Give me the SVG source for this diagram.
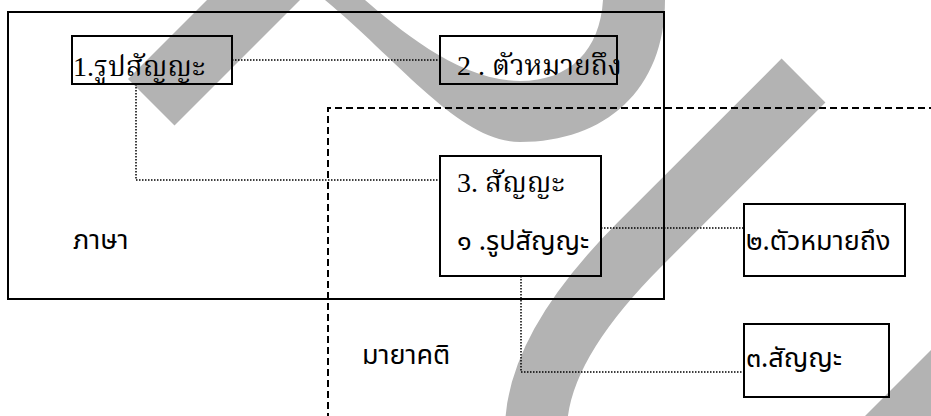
<svg xmlns="http://www.w3.org/2000/svg" width="931" height="416" viewBox="0 0 931 416">
<style>
.wm{fill:none;stroke:#b3b3b3;stroke-width:62;stroke-linecap:butt}
.wmf{fill:#b3b3b3;stroke:none}
.box{fill:none;stroke:#000;stroke-width:2}
.dot{fill:none;stroke:#000;stroke-width:1.5;stroke-dasharray:1.5 1.5}
.dash{fill:none;stroke:#000;stroke-width:2;stroke-dasharray:7 4}
.ser{font-family:"Liberation Serif","Noto Serif Thai","Noto Sans Thai",serif;font-size:28px;fill:#000}
.san{font-family:"Noto Sans","DejaVu Sans","Noto Sans Thai",sans-serif;font-size:27px;fill:#000}
</style>
<rect width="931" height="416" fill="#fff"/>
<g id="watermark">
<polygon class="wmf" points="207,0 300,0 174.5,125.5 128,79"/>
<path class="wmf" d="M 325 0 C 400 62 460 142 520 142 C 605 142 665 90 665 0 L 603 0 C 600 50 570 81 520 81 C 460 81 400 30 365 0 Z"/>
<path class="wm" d="M 803.5 80.5 L 640 244 Q 536 348 536 430"/>
<polygon class="wmf" points="931,350 931,416 865,416"/>
</g>
<g id="language">
<rect class="box" x="8" y="12" width="656" height="287"/>
<text class="san" x="73" y="249">ภาษา</text>
</g>
<g id="myth">
<path class="dash" d="M 328 420 L 328 108 L 935 108"/>
<text class="san" x="362" y="364">มายาคติ</text>
</g>
<g id="connectors">
<path class="dot" d="M 232 60 L 440 60"/>
<path class="dot" d="M 136 84 L 136 180 L 440 180"/>
<path class="dot" d="M 601 228 L 744 228"/>
<path class="dot" d="M 521 276 L 521 372 L 744 372"/>
</g>
<g id="signifier1">
<rect class="box" x="72" y="36" width="160" height="48"/>
<text class="ser" x="73" y="76">1.รูปสัญญะ</text>
</g>
<g id="signified2">
<rect class="box" x="440" y="36" width="177" height="48"/>
<text class="ser" x="457" y="75">2 . ตัวหมายถึง</text>
</g>
<g id="sign3">
<rect class="box" x="440" y="156" width="161" height="120"/>
<text class="ser" x="457" y="192">3. สัญญะ</text>
<text class="san" x="457" y="250">๑ .รูปสัญญะ</text>
</g>
<g id="signified-myth">
<rect class="box" x="744" y="204" width="161" height="72"/>
<text class="san" x="746" y="250">๒.ตัวหมายถึง</text>
</g>
<g id="sign-myth">
<rect class="box" x="744" y="324" width="145" height="73"/>
<text class="san" x="746" y="367">๓.สัญญะ</text>
</g>
</svg>
